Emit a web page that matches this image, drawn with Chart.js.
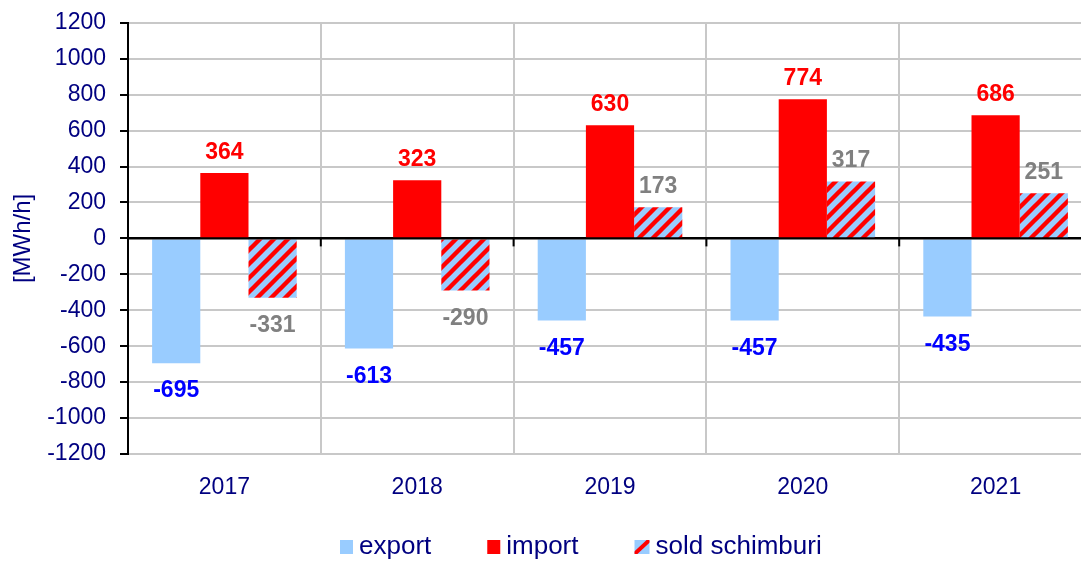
<!DOCTYPE html>
<html>
<head>
<meta charset="utf-8">
<script src="https://cdn.jsdelivr.net/npm/chart.js@4"></script>
<style>
html,body{margin:0;padding:0;background:#fff;overflow:hidden;}
#wrap{width:1092px;height:566px;margin-top:-5px;}
</style>
</head>
<body>
<div id="wrap"><canvas id="c" width="1092" height="566"></canvas></div>
<script>
const years = ['2017','2018','2019','2020','2021'];
const exportVals = [-695,-613,-457,-457,-435];
const importVals = [364,323,630,774,686];
const soldVals = [-331,-290,173,317,251];
const seriesNames = ['export','import','sold schimburi'];
const yTickMin = -1200, yTickMax = 1200, yTickStep = 200;

const FONT = '"Liberation Sans", Arial, sans-serif';
const NAVY = '#000080';
const LIGHTBLUE = '#99CCFF';
const RED = '#FF0000';

function makePattern(){
  const s = 14;
  const c = document.createElement('canvas');
  c.width = s; c.height = s;
  const g = c.getContext('2d');
  g.fillStyle = LIGHTBLUE; g.fillRect(0,0,s,s);
  g.strokeStyle = RED; g.lineWidth = 4.4;
  g.beginPath();
  g.moveTo(-s, s); g.lineTo(s, -s);
  g.moveTo(-s, 2*s); g.lineTo(2*s, -s);
  g.moveTo(0, 2*s); g.lineTo(2*s, 0);
  g.stroke();
  return document.getElementById('c').getContext('2d').createPattern(c,'repeat');
}
const pattern = makePattern();

const labelColors = ['#0000FF', '#FF0000', '#808080'];

const labelsPlugin = {
  id: 'valueLabels',
  afterDatasetsDraw(chart){
    const ctx = chart.ctx;
    const y = chart.scales.y, x = chart.scales.x;
    const zeroY = y.getPixelForValue(0);
    ctx.save();
    ctx.strokeStyle = '#000'; ctx.lineWidth = 2;
    ctx.beginPath(); ctx.moveTo(chart.chartArea.left, zeroY); ctx.lineTo(chart.chartArea.right, zeroY); ctx.stroke();
    for(let i=1;i<years.length;i++){
      const bx = (x.getPixelForValue(i-1)+x.getPixelForValue(i))/2;
      ctx.beginPath(); ctx.moveTo(bx, zeroY); ctx.lineTo(bx, zeroY+8); ctx.stroke();
    }
    ctx.font = 'bold 23px ' + FONT;
    ctx.textAlign = 'center';
    ctx.textBaseline = 'alphabetic';
    chart.data.datasets.forEach((ds, di) => {
      const meta = chart.getDatasetMeta(di);
      meta.data.forEach((el, i) => {
        const v = ds.data[i];
        ctx.fillStyle = labelColors[di];
        const ty = v >= 0 ? el.y - 14 : el.y + 34;
        ctx.fillText(String(v), el.x, ty);
      });
    });
    ctx.restore();
  }
};

const legendPlugin = {
  id: 'customLegend',
  afterDraw(chart){
    const ctx = chart.ctx;
    ctx.save();
    ctx.font = '26px ' + FONT;
    ctx.textBaseline = 'middle';
    ctx.textAlign = 'left';
    const box = 13, gapText = 6, gapItem = 56;
    const widths = seriesNames.map(n => ctx.measureText(n).width);
    let cx = 340;
    const cy = 552;
    seriesNames.forEach((n,i) => {
      const bw = i===2 ? box+2 : box;
      if(i===0){ ctx.fillStyle = LIGHTBLUE; ctx.fillRect(cx, cy-7, bw, 14); }
      else if(i===1){ ctx.fillStyle = RED; ctx.fillRect(cx, cy-7, bw, 14); }
      else {
        ctx.fillStyle = LIGHTBLUE; ctx.fillRect(cx, cy-7, bw, 14);
        ctx.save(); ctx.beginPath(); ctx.rect(cx, cy-7, bw, 14); ctx.clip();
        ctx.strokeStyle = RED; ctx.lineWidth = 4;
        ctx.beginPath(); ctx.moveTo(cx, cy+7); ctx.lineTo(cx+bw, cy-7); ctx.stroke();
        ctx.restore();
      }
      ctx.fillStyle = NAVY;
      ctx.fillText(n, cx + bw + gapText, cy);
      cx += bw + gapText + widths[i] + gapItem;
    });
    ctx.restore();
  }
};

new Chart(document.getElementById('c'), {
  type: 'bar',
  data: {
    labels: years,
    datasets: [
      { label: seriesNames[0], data: exportVals, backgroundColor: LIGHTBLUE },
      { label: seriesNames[1], data: importVals, backgroundColor: RED },
      { label: seriesNames[2], data: soldVals, backgroundColor: pattern }
    ]
  },
  options: {
    responsive: false,
    devicePixelRatio: 1,
    animation: false,
    layout: { padding: { top: 8, right: 0, left: 0, bottom: 50 } },
    datasets: { bar: { categoryPercentage: 0.75, barPercentage: 1.0, borderWidth: 0 } },
    plugins: { legend: { display: false }, tooltip: { enabled: false } },
    scales: {
      x: {
        grid: { offset: true, color: '#C8C8C8', lineWidth: 2, drawTicks: false },
        border: { display: false },
        ticks: { font: { size: 23, family: FONT }, color: NAVY, padding: 20 },
        afterFit(s){ s.height = 57; }
      },
      y: {
        min: yTickMin, max: yTickMax,
        ticks: { stepSize: yTickStep, font: { size: 23, family: FONT }, color: NAVY, padding: 14,
                 callback: v => String(v) },
        grid: {
          color: c => c.tick && c.tick.value === 0 ? '#000' : '#C8C8C8',
          lineWidth: 2,
          tickColor: '#000', tickLength: 8
        },
        border: { color: '#000', width: 2 },
        title: { display: true, text: '[MWh/h]', color: NAVY, font: { size: 24, family: FONT }, padding: { top: 9, bottom: 0 } },
        afterFit(s){ s.width = 128; }
      }
    }
  },
  plugins: [labelsPlugin, legendPlugin]
});
</script>
</body>
</html>
